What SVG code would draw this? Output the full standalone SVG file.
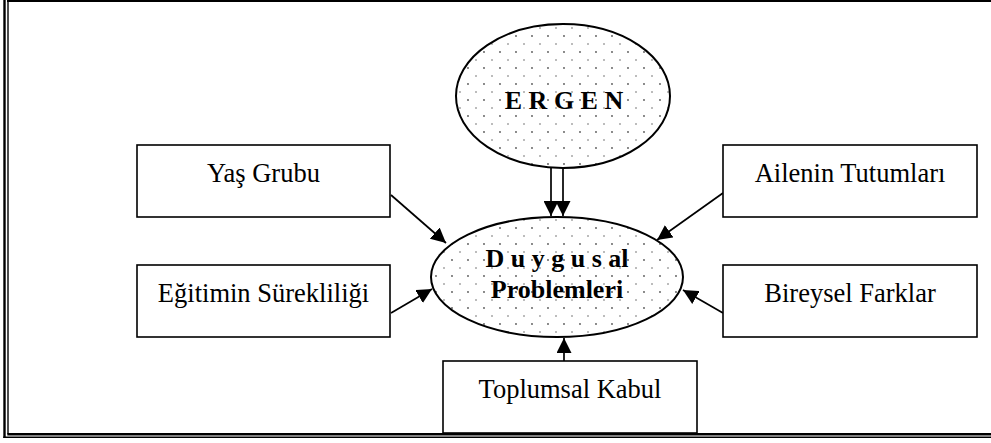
<svg xmlns="http://www.w3.org/2000/svg" width="991" height="443" viewBox="0 0 991 443">
<style>
.box{fill:#fff;stroke:#000;stroke-width:1.6}
.ell{fill:url(#dots);stroke:#000;stroke-width:2}
.t{font-family:"Liberation Serif","Times New Roman",serif;font-size:26.5px;fill:#000;text-anchor:middle}
.b{font-weight:bold;font-size:26px}
.c{stroke:#000;stroke-width:1.7;fill:none;marker-end:url(#ah)}
.f{stroke:#000;fill:none}
</style>
<defs>
<pattern id="dots" patternUnits="userSpaceOnUse" width="16" height="16">
<rect width="16" height="16" fill="#fff"/>
<circle cx="4" cy="4" r="0.9" fill="#555"/>
<circle cx="12" cy="12" r="0.8" fill="#666"/>
</pattern>
<marker id="ah" markerUnits="userSpaceOnUse" markerWidth="15" markerHeight="15" refX="15" refY="7.5" orient="auto">
<path d="M0,0 L15,7.5 L0,15 z" fill="#000"/>
</marker>
</defs>
<rect width="991" height="443" fill="#fff"/>
<g id="frame">
<line class="f" x1="7" y1="1" x2="991" y2="1" stroke-width="2"/>
<line class="f" x1="4.5" y1="0" x2="4.5" y2="438" stroke-width="2.4"/>
<line class="f" x1="8" y1="1" x2="8" y2="434" stroke-width="1.4"/>
<line class="f" x1="7.3" y1="434.2" x2="991" y2="434.2" stroke-width="2.4"/>
<line class="f" x1="3.3" y1="437.3" x2="991" y2="437.3" stroke-width="1.4"/>
</g>
<g id="connectors">
<line class="c" x1="551" y1="168" x2="551" y2="216"/>
<line class="c" x1="563" y1="168" x2="563" y2="216"/>
<line class="c" x1="391" y1="195" x2="446" y2="243"/>
<line class="c" x1="391" y1="313" x2="432" y2="289"/>
<line class="c" x1="723" y1="193" x2="657" y2="240"/>
<line class="c" x1="723" y1="313" x2="683" y2="290"/>
<line class="c" x1="564" y1="361" x2="564" y2="338"/>
</g>
<g id="ergen">
<ellipse class="ell" cx="563" cy="96" rx="107" ry="72"/>
<text class="t b" x="564" y="109">E R G E N</text>
</g>
<g id="duygusal">
<ellipse class="ell" cx="557" cy="277" rx="126" ry="60"/>
<text class="t b" x="557" y="267">D u y g u s al</text>
<text class="t b" x="557" y="298">Problemleri</text>
</g>
<g id="yas">
<rect class="box" x="137" y="145" width="253" height="72"/>
<text class="t" x="263.5" y="182">Yaş Grubu</text>
</g>
<g id="egitim">
<rect class="box" x="137" y="265" width="253" height="72"/>
<text class="t" x="263.5" y="302">Eğitimin Sürekliliği</text>
</g>
<g id="aile">
<rect class="box" x="723" y="145" width="254" height="72"/>
<text class="t" x="850" y="182">Ailenin Tutumları</text>
</g>
<g id="bireysel">
<rect class="box" x="723" y="265" width="254" height="72"/>
<text class="t" x="850" y="302">Bireysel Farklar</text>
</g>
<g id="toplumsal">
<rect class="box" x="443" y="361" width="254" height="72"/>
<text class="t" x="570" y="398">Toplumsal Kabul</text>
</g>
</svg>
